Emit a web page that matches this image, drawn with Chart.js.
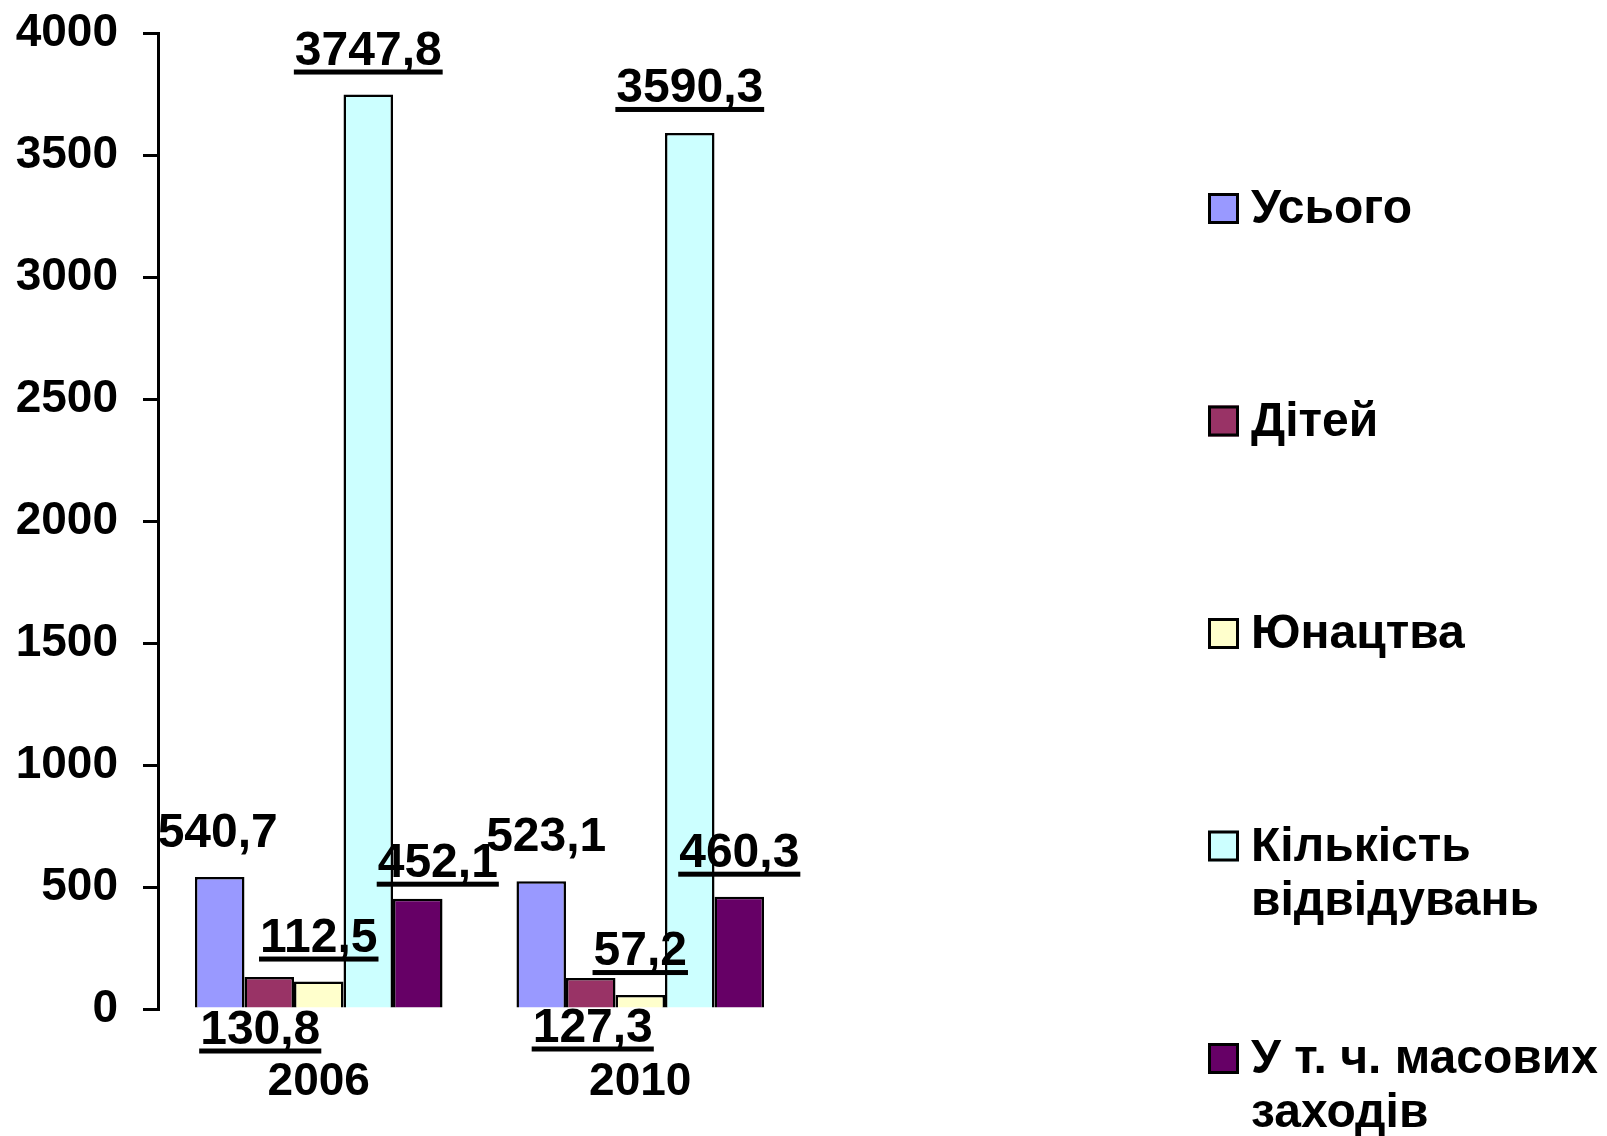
<!DOCTYPE html>
<html><head><meta charset="utf-8">
<script src="https://cdn.jsdelivr.net/npm/chart.js@4.4.0/dist/chart.umd.min.js"></script>
<style>html,body{margin:0;padding:0;background:#fff;overflow:hidden}#wrap{width:1607px;height:1136px}</style>
</head><body><div id="wrap"><canvas id="c" width="1607" height="1136"></canvas></div>
<script>
// ---- data ----
const categories = ['2006', '2010'];
const seriesNames = ['Усього', 'Дітей', 'Юнацтва', 'Кількість відвідувань', 'У т. ч. масових заходів'];
const totalVals = [540.7, 523.1];
const childrenVals = [130.8, 127.3];
const youthVals = [112.5, 57.2];
const visitsVals = [3747.8, 3590.3];
const eventsVals = [452.1, 460.3];
const yTicks = [0, 500, 1000, 1500, 2000, 2500, 3000, 3500, 4000];

// ---- style ----
const colors = ['#9999FF', '#993366', '#FFFFCC', '#CCFFFF', '#660066'];
const FAMILY = '"Liberation Sans", Arial, sans-serif';
const AXIS_FONT = {family: FAMILY, size: 46, weight: 'bold'};
const LABEL_CSS = 'bold 48px ' + FAMILY;
const LEGEND_CSS = 'bold 48px ' + FAMILY;
// label placement per series, per category: anchor (top of bar / base), offsets, underline
const labelStyle = [
  [{from:'top', dx:-2, dy:-30, u:false}, {from:'top', dx:5, dy:-30, u:false}],
  [{from:'base', dx:-9, dy:36, u:true}, {from:'base', dx:2, dy:34, u:true}],
  [{from:'top', dx:0, dy:-30, u:true}, {from:'top', dx:0, dy:-30, u:true}],
  [{from:'top', dx:0, dy:-30, u:true}, {from:'top', dx:0, dy:-31, u:true}],
  [{from:'top', dx:20, dy:-22, u:true}, {from:'top', dx:0, dy:-30, u:true}]
];
const fmt = v => v.toFixed(1).replace('.', ',');

const valueLabels = {
  id: 'valueLabels',
  afterDatasetsDraw(chart) {
    const ctx = chart.ctx;
    ctx.save();
    ctx.font = LABEL_CSS;
    ctx.fillStyle = '#000';
    ctx.textAlign = 'left';
    ctx.textBaseline = 'alphabetic';
    chart.data.datasets.forEach((ds, di) => {
      const meta = chart.getDatasetMeta(di);
      meta.data.forEach((bar, i) => {
        const txt = fmt(ds.data[i]);
        const st = labelStyle[di][i];
        const w = ctx.measureText(txt).width;
        const cx = bar.x + st.dx;
        const by = (st.from === 'base' ? bar.base : bar.y) + st.dy;
        ctx.fillText(txt, cx - w / 2, by);
        if (st.u) ctx.fillRect(cx - w / 2 - 1, by + 5, w + 2, 5);
      });
    });
    ctx.restore();
  }
};

const sideLegend = {
  id: 'sideLegend',
  afterDraw(chart) {
    const ctx = chart.ctx;
    const boxX = 1208, top0 = 193, step = 212.5, box = 31, textX = 1251, lineH = 54, maxW = 356;
    ctx.save();
    ctx.font = LEGEND_CSS;
    ctx.textAlign = 'left';
    ctx.textBaseline = 'alphabetic';
    chart.data.datasets.forEach((ds, i) => {
      const top = top0 + i * step;
      ctx.fillStyle = ds.backgroundColor;
      ctx.fillRect(boxX, top, box, box);
      ctx.strokeStyle = '#000';
      ctx.lineWidth = 3;
      ctx.strokeRect(boxX + 1.5, top + 1.5, box - 3, box - 3);
      const words = ds.label.split(' ');
      const lines = [];
      let cur = '';
      words.forEach(wd => {
        const t = cur ? cur + ' ' + wd : wd;
        if (cur && ctx.measureText(t).width > maxW) { lines.push(cur); cur = wd; } else cur = t;
      });
      if (cur) lines.push(cur);
      ctx.fillStyle = '#000';
      lines.forEach((ln, k) => ctx.fillText(ln, textX, top + box - 1 + k * lineH));
    });
    ctx.restore();
  }
};

const seriesData = [totalVals, childrenVals, youthVals, visitsVals, eventsVals];

new Chart(document.getElementById('c'), {
  type: 'bar',
  data: {
    labels: categories,
    datasets: seriesNames.map((name, i) => ({
      label: name,
      data: seriesData[i],
      backgroundColor: colors[i],
      borderColor: '#000',
      borderWidth: 2.5,
      categoryPercentage: 0.77,
      barPercentage: 1
    }))
  },
  options: {
    responsive: false,
    animation: false,
    devicePixelRatio: 1,
    layout: {padding: {left: 0, top: 33, right: 806, bottom: 0}},
    plugins: {legend: {display: false}, tooltip: {enabled: false}},
    scales: {
      x: {
        grid: {display: false, drawTicks: false},
        border: {display: false},
        ticks: {font: AXIS_FONT, color: '#000', padding: 46, maxRotation: 0},
        afterFit(s) { s.height = 127; s.paddingLeft = 0; s.paddingRight = 0; }
      },
      y: {
        min: yTicks[0], max: yTicks[yTicks.length - 1],
        ticks: {font: AXIS_FONT, color: '#000', padding: 25, stepSize: 500, callback: v => String(v)},
        afterBuildTicks(s) { s.ticks = yTicks.map(v => ({value: v})); },
        grid: {drawOnChartArea: false, drawTicks: true, tickLength: 15, color: '#000', lineWidth: 3},
        border: {display: true, color: '#000', width: 3},
        afterFit(s) { s.width = 158; s.paddingTop = 0; s.paddingBottom = 0; }
      }
    }
  },
  plugins: [valueLabels, sideLegend]
});
</script>
</body></html>
